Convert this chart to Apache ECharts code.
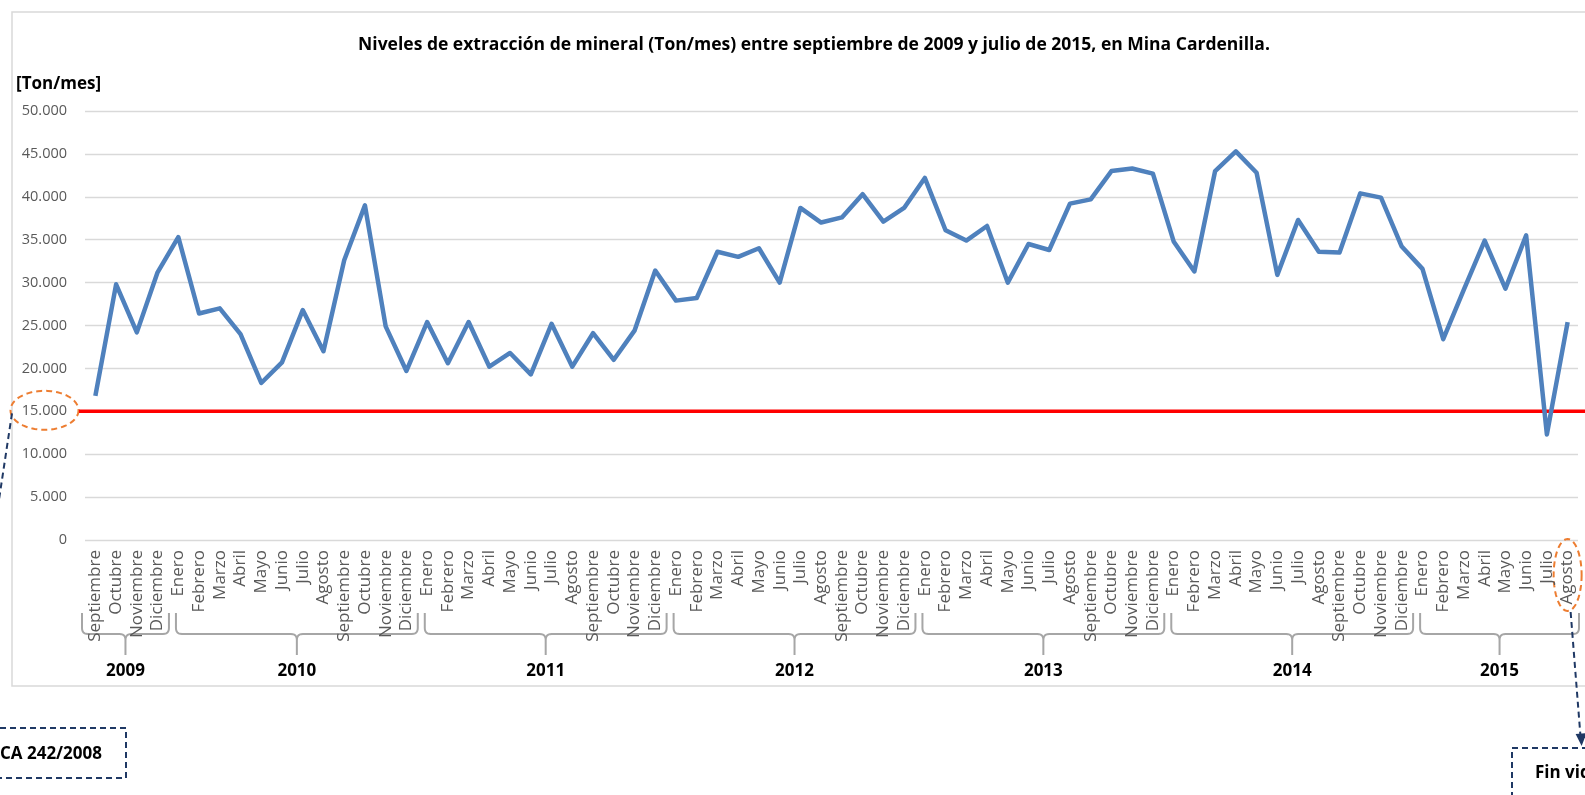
<!DOCTYPE html>
<html>
<head>
<meta charset="utf-8">
<script src="https://cdn.jsdelivr.net/npm/echarts@6/dist/echarts.min.js"></script>
<style>
    html, body { margin: 0; padding: 0; background: #fff; }
    #main { width: 1585px; height: 795px; }
</style>
</head>
<body>
<div id="main"></div>
<script>
// datos
var nombresMes = ['Enero', 'Febrero', 'Marzo', 'Abril', 'Mayo', 'Junio', 'Julio',
    'Agosto', 'Septiembre', 'Octubre', 'Noviembre', 'Diciembre'];
var anios = [2009, 2010, 2011, 2012, 2013, 2014, 2015];
var mesInicio = 8;   // septiembre 2009
var mesFin = 7;      // agosto 2015
var valores = [
    16800, 29800, 24200, 31200,
    35300, 26400, 27000, 24000, 18300, 20700, 26800, 22000, 32600, 39000, 24900, 19700,
    25400, 20600, 25400, 20200, 21800, 19300, 25200, 20200, 24100, 21000, 24400, 31400,
    27900, 28200, 33600, 33000, 34000, 30000, 38700, 37000, 37600, 40300, 37100, 38700,
    42200, 36100, 34900, 36600, 30000, 34500, 33800, 39200, 39700, 43000, 43300, 42700,
    34800, 31300, 43000, 45300, 42800, 30900, 37300, 33600, 33500, 40400, 39900, 34200,
    31600, 23400, 29200, 34900, 29300, 35500, 12300, 25400
];
var limite = 15000;

// categorias y grupos por año
var categorias = [];
var grupos = [];
anios.forEach(function (a, k) {
    var desde = k === 0 ? mesInicio : 0;
    var hasta = k === anios.length - 1 ? mesFin : 11;
    var ini = categorias.length;
    for (var m = desde; m <= hasta; m++) categorias.push(nombresMes[m]);
    grupos.push({ anio: a, ini: ini, fin: categorias.length - 1 });
});

function miles(v) {
    return String(v).replace(/\B(?=(\d{3})+(?!\d))/g, '.');
}

var fuente = 'Open Sans';
var myChart = echarts.init(document.getElementById('main'));

var option = {
    backgroundColor: '#fff',
    animation: false,
    title: [{
        text: 'Niveles de extracción de mineral (Ton/mes) entre septiembre de 2009 y julio de 2015, en Mina Cardenilla.',
        left: 809, top: 31, textAlign: 'center',
        textStyle: { fontFamily: fuente, fontSize: 17.5, fontWeight: 'bold', color: '#000' }
    }, {
        text: '[Ton/mes]',
        left: 11, top: 71,
        textStyle: { fontFamily: fuente, fontSize: 17, fontWeight: 'bold', color: '#000' }
    }],
    grid: { left: 85, right: 7, top: 111, bottom: 255, containLabel: false },
    xAxis: {
        type: 'category',
        data: categorias,
        boundaryGap: true,
        axisLine: { show: false },
        axisTick: { show: false },
        axisLabel: {
            interval: 0, rotate: 90, margin: 10,
            fontFamily: fuente, fontSize: 17, color: '#595959'
        }
    },
    yAxis: {
        type: 'value',
        min: 0, max: 50000, interval: 5000,
        axisLine: { show: false },
        axisTick: { show: false },
        axisLabel: {
            margin: 18, fontFamily: fuente, fontSize: 14.5, color: '#595959',
            formatter: miles
        },
        splitLine: { lineStyle: { color: '#d9d9d9', width: 1.3 } }
    },
    series: [{
        type: 'line',
        data: valores,
        showSymbol: false,
        symbol: 'none',
        lineStyle: { color: '#4f81bd', width: 4.5, join: 'round' },
        z: 3
    }]
};
myChart.setOption(option);

// adornos: llaves de años, linea limite, elipses y cuadros
var g = [];
var x0 = myChart.convertToPixel({ xAxisIndex: 0 }, 0);
var x1 = myChart.convertToPixel({ xAxisIndex: 0 }, 1);
var paso = x1 - x0;
var yBase = myChart.convertToPixel({ yAxisIndex: 0 }, 0);
var yLim = myChart.convertToPixel({ yAxisIndex: 0 }, limite);

function elipse(cx, cy, rx, ry) {
    var pts = [];
    for (var i = 0; i < 64; i++) {
        var t = i / 64 * Math.PI * 2;
        pts.push([cx + rx * Math.cos(t), cy + ry * Math.sin(t)]);
    }
    return pts;
}

// esquina redondeada aproximada
function curva(p0, p1, p2) {
    var pts = [];
    for (var i = 0; i <= 6; i++) {
        var t = i / 6, u = 1 - t;
        pts.push([u * u * p0[0] + 2 * u * t * p1[0] + t * t * p2[0],
                  u * u * p0[1] + 2 * u * t * p1[1] + t * t * p2[1]]);
    }
    return pts;
}

g.push({
    type: 'rect', shape: { x: 12, y: 12, width: 1600, height: 674 },
    style: { fill: null, stroke: '#d9d9d9', lineWidth: 1.5 }, z: 0
});

grupos.forEach(function (gr, k) {
    var izq = myChart.convertToPixel({ xAxisIndex: 0 }, gr.ini) - paso / 2 + (k === 0 ? -3 : 8);
    var der = myChart.convertToPixel({ xAxisIndex: 0 }, gr.fin) + paso / 2 + 1;
    var c = (izq + der) / 2;
    var yt = yBase + 73, yh = yBase + 94, yb = yBase + 115;
    var r = 6;
    var pts = [[izq, yt]]
        .concat(curva([izq, yh - r], [izq, yh], [izq + r, yh]))
        .concat(curva([c - r, yh], [c, yh], [c, yh + r]))
        .concat([[c, yb], [c, yh + r]])
        .concat(curva([c, yh + r], [c, yh], [c + r, yh]))
        .concat(curva([der - r, yh], [der, yh], [der, yh - r]))
        .concat([[der, yt]]);
    g.push({
        type: 'polyline', shape: { points: pts },
        style: { fill: null, stroke: '#a6a6a6', lineWidth: 2 }
    });
    g.push({
        type: 'text', x: c, y: yBase + 131,
        style: {
            text: String(gr.anio), fontFamily: fuente, fontSize: 17, fontWeight: 'bold',
            fill: '#000', align: 'center', verticalAlign: 'middle'
        }
    });
});

// linea limite
g.push({
    type: 'line', shape: { x1: 79, y1: yLim, x2: 1585, y2: yLim },
    style: { stroke: '#ff0000', lineWidth: 3.5 }, z: 2
});

// elipse en 15.000 y linea punteada
g.push({
    type: 'polygon', shape: { points: elipse(44.5, yLim - 1, 34, 19.5) },
    style: { fill: null, stroke: '#ed7d31', lineWidth: 2, lineDash: [6, 4] }
});
g.push({
    type: 'line', shape: { x1: 12, y1: yLim + 2, x2: -2, y2: yLim + 95 },
    style: { stroke: '#1f3864', lineWidth: 2, lineDash: [6, 4] }
});
g.push({
    type: 'rect', shape: { x: -10, y: 728, width: 136, height: 50 },
    style: { fill: null, stroke: '#1f3864', lineWidth: 2, lineDash: [6, 4] }
});
g.push({
    type: 'text', x: 102, y: 754,
    style: {
        text: 'CA 242/2008', fontFamily: fuente, fontSize: 17, fontWeight: 'bold',
        fill: '#000', align: 'right', verticalAlign: 'middle'
    }
});

// elipse en Agosto 2015 y flecha
var xAgo = myChart.convertToPixel({ xAxisIndex: 0 }, categorias.length - 1);
g.push({
    type: 'polygon', shape: { points: elipse(xAgo, yBase + 35, 14, 36) },
    style: { fill: null, stroke: '#ed7d31', lineWidth: 2, lineDash: [6, 4] }
});
g.push({
    type: 'line', shape: { x1: xAgo + 3, y1: yBase + 72, x2: xAgo + 13, y2: yBase + 198 },
    style: { stroke: '#1f3864', lineWidth: 2, lineDash: [6, 4] }
});
g.push({
    type: 'polygon',
    shape: { points: [[xAgo + 8, yBase + 194], [xAgo + 19, yBase + 193], [xAgo + 14, yBase + 206]] },
    style: { fill: '#1f3864' }
});
g.push({
    type: 'rect', shape: { x: 1512, y: 748, width: 100, height: 60 },
    style: { fill: null, stroke: '#1f3864', lineWidth: 2, lineDash: [6, 4] }
});
g.push({
    type: 'text', x: 1535, y: 773,
    style: {
        text: 'Fin vid', fontFamily: fuente, fontSize: 17, fontWeight: 'bold',
        fill: '#000', align: 'left', verticalAlign: 'middle'
    }
});

myChart.setOption({ graphic: g });
</script>
</body>
</html>
